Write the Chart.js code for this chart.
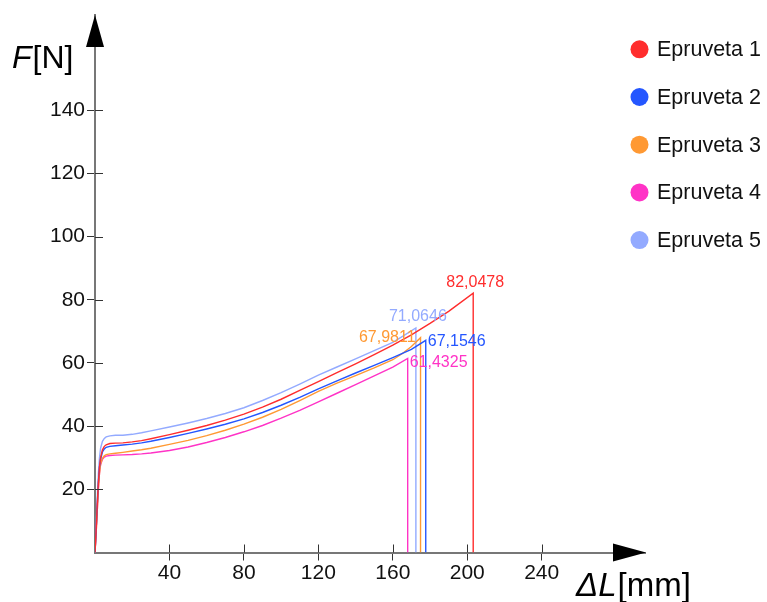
<!DOCTYPE html>
<html><head><meta charset="utf-8">
<script src="https://cdn.jsdelivr.net/npm/chart.js@4.4.1/dist/chart.umd.min.js"></script>
<style>html,body{margin:0;padding:0;background:#fff;}#wrap{width:767px;height:602px;}</style>
</head><body><div id="wrap"><canvas id="c" width="767" height="602"></canvas></div>
<script>
// ---------- data ----------
const seriesNames = ['Epruveta 1', 'Epruveta 2', 'Epruveta 3', 'Epruveta 4', 'Epruveta 5'];
const xTicks = [40, 80, 120, 160, 200, 240];
const yTicks = [20, 40, 60, 80, 100, 120, 140];
const xCommon = [0, 0.6, 1.2, 1.8, 2.4, 3, 4, 5, 6, 8, 11, 15, 20, 25, 30, 40, 50, 60, 70, 80, 90, 100, 110, 120, 130, 140, 150, 160];
const f1 = [0, 7, 15, 22, 27, 30, 32.5, 33.6, 34.1, 34.5, 34.6, 34.7, 35.0, 35.4, 36.0, 37.3, 38.7, 40.2, 41.9, 43.8, 46.0, 48.5, 51.3, 54.1, 56.9, 59.7, 62.6, 65.6];
const f2 = [0, 7, 15, 22, 27, 29.5, 31.8, 32.8, 33.3, 33.6, 33.8, 34.0, 34.3, 34.7, 35.2, 36.4, 37.7, 39.1, 40.6, 42.3, 44.3, 46.6, 49.1, 51.8, 54.3, 56.8, 59.2, 61.7];
const f3 = [0, 6, 13, 20, 25, 28, 29.8, 30.6, 31.0, 31.2, 31.4, 31.7, 32.1, 32.5, 33.0, 34.2, 35.5, 37.0, 38.7, 40.6, 42.8, 45.3, 48.1, 51.0, 53.6, 56.0, 58.4, 61.0];
const f4 = [0, 6, 13, 20, 25, 27.8, 29.5, 30.2, 30.5, 30.7, 30.8, 30.9, 31.0, 31.2, 31.5, 32.3, 33.4, 34.8, 36.4, 38.2, 40.2, 42.5, 45.0, 47.7, 50.4, 53.1, 55.9, 58.7];
const f5 = [0, 8, 17, 25, 30, 33, 35.2, 36.1, 36.6, 36.9, 37.1, 37.1, 37.4, 37.9, 38.5, 39.7, 41.0, 42.4, 44.0, 45.8, 48.1, 50.6, 53.3, 56.1, 58.7, 61.3, 63.9, 66.5];
const tailX1 = [170, 180, 190], tailF1 = [68.9, 72.5, 76.3];
const tailX2 = [170], tailF2 = [64.3];
const tailX3 = [165, 170], tailF3 = [62.9, 65.2];
const tailX4 = [], tailF4 = [];
const tailX5 = [165], tailF5 = [68.3];
const breakX = [203.2, 177.7, 174.9, 168.0, 172.4];
const peakF = [82.0478, 67.1546, 67.9811, 61.4325, 71.0646];
const peakLabels = ['82,0478', '67,1546', '67,9811', '61,4325', '71,0646'];

// ---------- styles ----------
const colors = ['#ff2d2d', '#2456ff', '#ff9933', '#ff33c6', '#93aaff'];
const FONT = 'Arial, "Liberation Sans", sans-serif';
// label placement: 'above' | 'left' | 'right' | 'rightBelow'
const labelPlace = ['above', 'right', 'left', 'rightBelow', 'above'];

const fs = [f1, f2, f3, f4, f5];
const tx = [tailX1, tailX2, tailX3, tailX4, tailX5];
const tf = [tailF1, tailF2, tailF3, tailF4, tailF5];

const datasets = seriesNames.map((name, i) => {
  const xs = xCommon.concat(tx[i], [breakX[i], breakX[i]]);
  const ys = fs[i].concat(tf[i], [peakF[i], 0]);
  return {
    label: name,
    data: xs.map((x, k) => ({ x: x, y: ys[k] })),
    borderColor: colors[i],
    backgroundColor: colors[i],
    borderWidth: 1.4,
    pointRadius: 0,
    tension: 0,
    fill: false
  };
});

const decor = {
  id: 'decor',
  afterDraw(chart) {
    const ctx = chart.ctx;
    const xs = chart.scales.x, ys = chart.scales.y;
    const ca = chart.chartArea;
    const x0 = ca.left, y0 = ca.bottom;
    ctx.save();
    // inner halves of tick marks
    ctx.strokeStyle = '#333';
    ctx.lineWidth = 1;
    ctx.beginPath();
    xTicks.forEach(v => { const p = Math.round(xs.getPixelForValue(v)) + 0.5; ctx.moveTo(p, y0); ctx.lineTo(p, y0 - 8); });
    yTicks.forEach(v => { const p = Math.round(ys.getPixelForValue(v)) + 0.5; ctx.moveTo(x0, p); ctx.lineTo(x0 + 8, p); });
    ctx.stroke();
    // arrows
    ctx.fillStyle = '#000';
    ctx.beginPath();
    ctx.moveTo(x0, 15); ctx.lineTo(x0 - 9, 47); ctx.lineTo(x0 + 9, 47); ctx.closePath(); ctx.fill();
    ctx.beginPath();
    ctx.moveTo(646, y0); ctx.lineTo(613, y0 - 9); ctx.lineTo(613, y0 + 9); ctx.closePath(); ctx.fill();
    // axis titles
    ctx.fillStyle = '#000';
    ctx.textBaseline = 'alphabetic';
    ctx.textAlign = 'left';
    ctx.font = 'italic 32px ' + FONT;
    ctx.fillText('F', 12, 68);
    let w = ctx.measureText('F').width;
    ctx.font = '32px ' + FONT;
    ctx.fillText('[N]', 12 + w + 1, 68);
    ctx.font = 'italic 33px ' + FONT;
    ctx.fillText('ΔL', 576, 596);
    w = ctx.measureText('ΔL').width;
    ctx.font = '33px ' + FONT;
    ctx.fillText('[mm]', 576 + w + 1, 596);
    // legend
    seriesNames.forEach((name, i) => {
      const cy = 49.3 + i * 47.7;
      ctx.fillStyle = colors[i];
      ctx.beginPath(); ctx.arc(639.5, cy, 9, 0, Math.PI * 2); ctx.fill();
      ctx.fillStyle = '#111';
      ctx.font = '21.5px ' + FONT;
      ctx.textBaseline = 'middle';
      ctx.textAlign = 'left';
      ctx.fillText(name, 657, cy + 1);
    });
    // peak labels
    ctx.font = '16px ' + FONT;
    peakLabels.forEach((t, i) => {
      const px = xs.getPixelForValue(breakX[i]);
      const py = ys.getPixelForValue(peakF[i]);
      ctx.fillStyle = colors[i];
      const pl = labelPlace[i];
      if (pl === 'above') { ctx.textAlign = 'center'; ctx.textBaseline = 'bottom'; ctx.fillText(t, px + 2, py - 3); }
      else if (pl === 'left') { ctx.textAlign = 'right'; ctx.textBaseline = 'middle'; ctx.fillText(t, px - 5, py); }
      else if (pl === 'right') { ctx.textAlign = 'left'; ctx.textBaseline = 'middle'; ctx.fillText(t, px + 2, py + 1); }
      else { ctx.textAlign = 'left'; ctx.textBaseline = 'middle'; ctx.fillText(t, px + 2, py + 4); }
    });
    ctx.restore();
  }
};

new Chart(document.getElementById('c'), {
  type: 'line',
  data: { datasets: datasets },
  options: {
    responsive: false,
    animation: false,
    devicePixelRatio: 1,
    layout: { padding: { left: 0, top: 15, right: 122, bottom: 9.5 } },
    plugins: { legend: { display: false }, tooltip: { enabled: false } },
    scales: {
      x: {
        type: 'linear', min: 0, max: 295.5,
        afterBuildTicks: s => { s.ticks = xTicks.map(v => ({ value: v })); },
        afterFit: s => { s.height = 40; },
        grid: { display: true, drawOnChartArea: false, drawTicks: true, tickLength: 8, color: '#333', lineWidth: 1 },
        border: { display: true, color: '#777', width: 2 },
        ticks: { font: { family: FONT, size: 21 }, color: '#111', padding: 0, maxRotation: 0, autoSkip: false }
      },
      y: {
        type: 'linear', min: 0, max: 170.1,
        afterBuildTicks: s => { s.ticks = yTicks.map(v => ({ value: v })); },
        afterFit: s => { s.width = 95; },
        grid: { display: true, drawOnChartArea: false, drawTicks: true, tickLength: 8, color: '#333', lineWidth: 1 },
        border: { display: true, color: '#777', width: 2 },
        ticks: { font: { family: FONT, size: 21 }, color: '#111', padding: 2, autoSkip: false }
      }
    }
  },
  plugins: [decor]
});
</script></body></html>
